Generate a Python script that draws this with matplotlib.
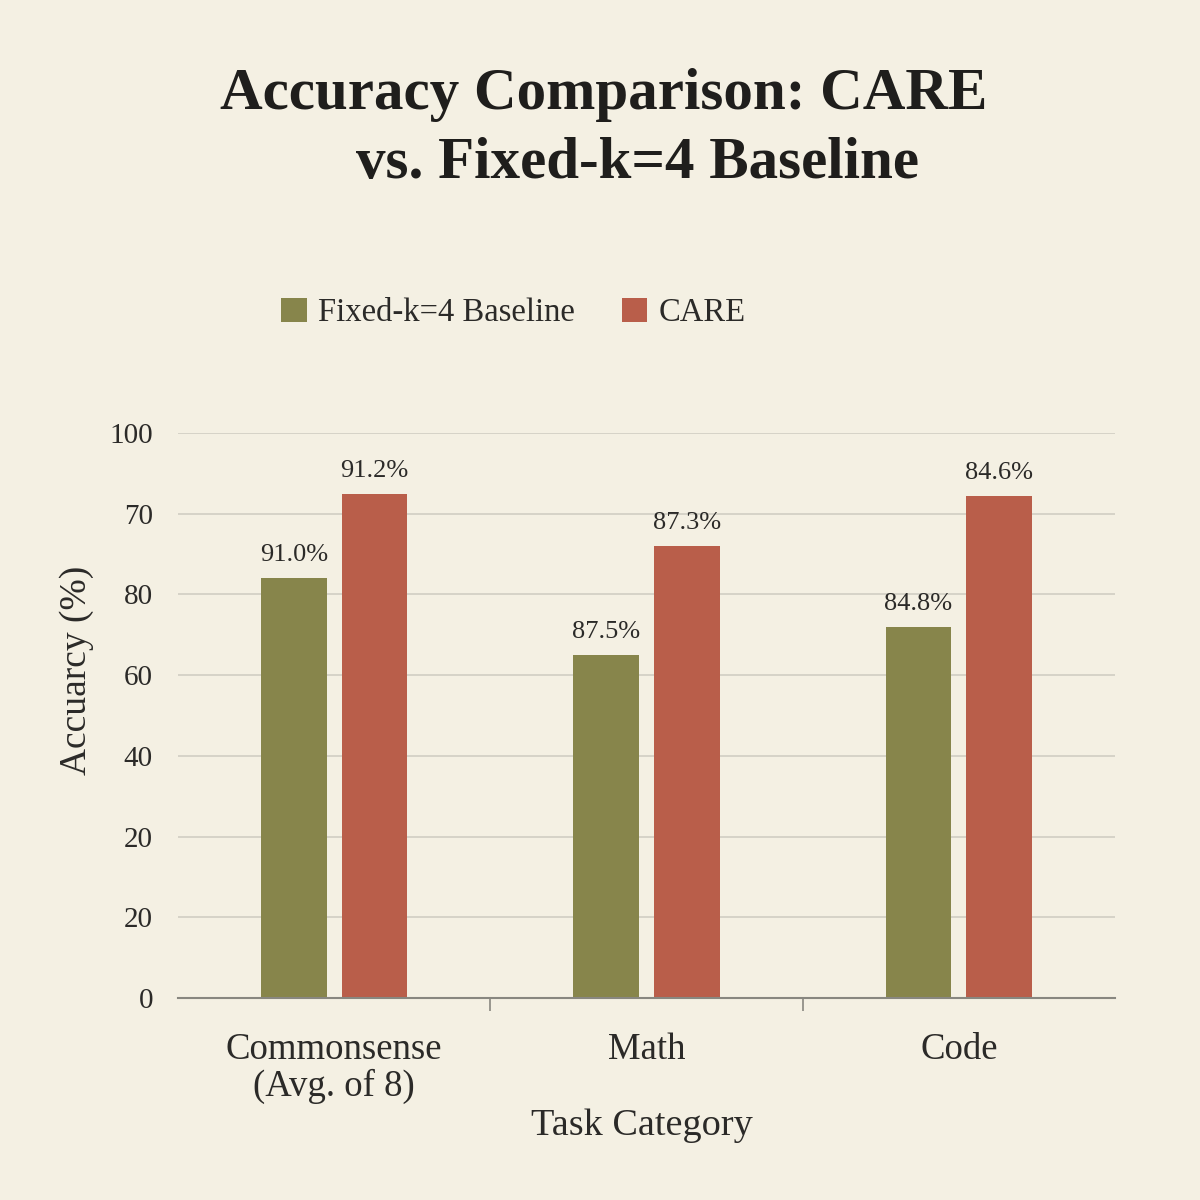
import matplotlib
matplotlib.use("Agg")
import matplotlib.pyplot as plt
import numpy as np

# Data
categories = ["Commonsense\n(Avg. of 8)", "Math", "Code"]
series_names = ["Fixed-k=4 Baseline", "CARE"]
baseline_heights = [104.1, 85.0, 91.9]     # bar heights in axis units as drawn
care_heights = [124.9, 112.0, 124.4]
baseline_labels = ["91.0%", "87.5%", "84.8%"]
care_labels = ["91.2%", "87.3%", "84.6%"]
ytick_values = [0, 20, 40, 60, 80, 100, 120, 140]
ytick_labels = ["0", "20", "20", "40", "60", "80", "70", "100"]

BG = "#f4f0e3"
OLIVE = "#87854b"
RED = "#b95e4a"
TXT = "#2b2a28"
GRID = "#d3d0c6"

plt.rcParams['font.family'] = ['Liberation Serif', 'DejaVu Serif']

fig = plt.figure(figsize=(12, 12), dpi=100, facecolor=BG)
ax = fig.add_axes([0.1483, 0.1683, 0.7808, 0.4709], facecolor=BG)

x = np.arange(len(categories))
w = 0.21
off = 0.129
b1 = ax.bar(x - off, baseline_heights, w, color=OLIVE, label=series_names[0], zorder=3)
b2 = ax.bar(x + off, care_heights, w, color=RED, label=series_names[1], zorder=3)

for rect, lab in zip(b1, baseline_labels):
    ax.text(rect.get_x() + rect.get_width() / 2, rect.get_height() + 3, lab,
            ha="center", va="bottom", fontsize=19, color=TXT, zorder=4)
for rect, lab in zip(b2, care_labels):
    ax.text(rect.get_x() + rect.get_width() / 2, rect.get_height() + 3, lab,
            ha="center", va="bottom", fontsize=19, color=TXT, zorder=4)

ax.set_xlim(-0.5, 2.5)
ax.set_ylim(0, 140)
ax.set_yticks(ytick_values)
ax.set_yticklabels(ytick_labels, fontsize=21, color=TXT)
ax.set_xticks(x)
ax.set_xticklabels(categories, fontsize=26.5, color=TXT, linespacing=1.05)
ax.set_xticks([0.5, 1.5], minor=True)
ax.tick_params(axis="x", which="major", length=0, pad=25)
ax.tick_params(axis="x", which="minor", length=9, color="#888780", width=1.2)
ax.tick_params(axis="y", length=0, pad=18)

ax.grid(axis="y", color=GRID, linewidth=1.3, zorder=0)
for s in ["top", "right", "left"]:
    ax.spines[s].set_visible(False)
ax.spines["bottom"].set_color("#888780")
ax.spines["bottom"].set_linewidth(1.5)
ax.spines["bottom"].set_zorder(5)

fig.text(0.064, 0.441, "Accuarcy (%)", rotation=90, ha="center", va="center",
         fontsize=27, color=TXT)
fig.text(0.535, 0.062, "Task Category", ha="center", va="center",
         fontsize=27.5, color=TXT)

fig.text(0.503, 0.921, "Accuracy Comparison: CARE", ha="center", va="center",
         fontsize=42.5, fontweight="bold", color="#1f1e1c")
fig.text(0.531, 0.863, "vs. Fixed-k=4 Baseline", ha="center", va="center",
         fontsize=42.5, fontweight="bold", color="#1f1e1c")

leg = fig.legend(handles=[b1, b2], labels=series_names, loc="center",
                 bbox_to_anchor=(0.428, 0.739), ncol=2, frameon=False,
                 fontsize=23.5, handlelength=0.77, handleheight=0.77,
                 handletextpad=0.35, columnspacing=1.45)
for t in leg.get_texts():
    t.set_color(TXT)

fig.savefig("out.png", dpi=100, facecolor=BG)
